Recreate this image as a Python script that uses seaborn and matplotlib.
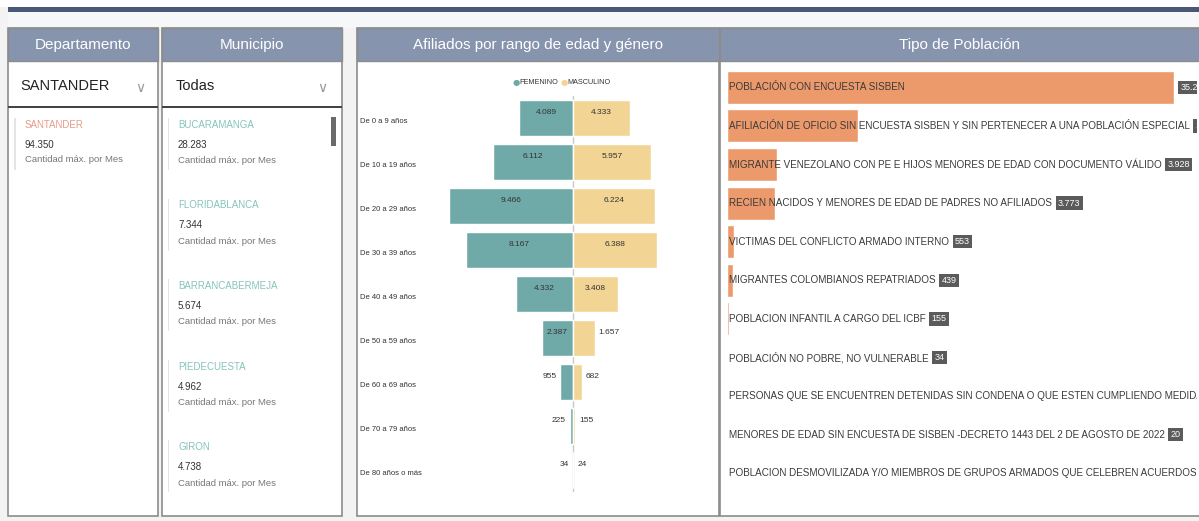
import matplotlib
matplotlib.use("Agg")
import matplotlib.pyplot as plt
import seaborn as sns
from matplotlib.patches import Rectangle
from matplotlib.transforms import blended_transform_factory

sns.set_theme(style="white")
plt.rcParams["font.family"] = ["Liberation Sans", "DejaVu Sans"]

# ---- datos ----
departamento = "SANTANDER"
depto_total = 94350

municipios = ["BUCARAMANGA", "FLORIDABLANCA", "BARRANCABERMEJA", "PIEDECUESTA", "GIRON"]
muni_values = [28283, 7344, 5674, 4962, 4738]

age_groups = ["De 0 a 9 años", "De 10 a 19 años", "De 20 a 29 años", "De 30 a 39 años",
              "De 40 a 49 años", "De 50 a 59 años", "De 60 a 69 años", "De 70 a 79 años",
              "De 80 años o más"]
female = [4089, 6112, 9466, 8167, 4332, 2387, 955, 225, 34]
male = [4333, 5957, 6224, 6388, 3408, 1657, 682, 155, 24]

pop_types = [
    "POBLACIÓN CON ENCUESTA SISBEN",
    "AFILIACIÓN DE OFICIO SIN ENCUESTA SISBEN Y SIN PERTENECER A UNA POBLACIÓN ESPECIAL",
    "MIGRANTE VENEZOLANO CON PE E HIJOS MENORES DE EDAD CON DOCUMENTO VÁLIDO",
    "RECIEN NACIDOS Y MENORES DE EDAD DE PADRES NO AFILIADOS",
    "VICTIMAS DEL CONFLICTO ARMADO INTERNO",
    "MIGRANTES COLOMBIANOS REPATRIADOS",
    "POBLACION INFANTIL A CARGO DEL ICBF",
    "POBLACIÓN NO POBRE, NO VULNERABLE",
    "PERSONAS QUE SE ENCUENTREN DETENIDAS SIN CONDENA O QUE ESTEN CUMPLIENDO MEDIDA DE ASEGURAMIENTO",
    "MENORES DE EDAD SIN ENCUESTA DE SISBEN -DECRETO 1443 DEL 2 DE AGOSTO DE 2022",
    "POBLACION DESMOVILIZADA Y/O MIEMBROS DE GRUPOS ARMADOS QUE CELEBREN ACUERDOS DE PAZ",
]
pop_values = [35214, 10296, 3928, 3773, 553, 439, 155, 34, 27, 20, 12]

TEAL = "#6faaa8"
TAN = "#f2d594"
SALMON = "#ec9a6c"
HEADER = "#8794ae"
BORDER = "#8c8c8c"

W, H = 1199, 521


def fmt(v):
    return f"{v:,}".replace(",", ".")


fig = plt.figure(figsize=(W / 100, H / 100), dpi=100)
fig.patch.set_facecolor("#f3f3f3")


def rect(x0, y0, x1, y1, z=0.5, **kw):
    fig.add_artist(Rectangle((x0 / W, 1 - y1 / H), (x1 - x0) / W, (y1 - y0) / H,
                             transform=fig.transFigure, zorder=z, **kw))


def ftext(x, y, s, **kw):
    return fig.text(x / W, 1 - y / H, s, **kw)


# fondo y barra superior
rect(0, 0, W, 7, fc="white", ec="none")
rect(8, 7, W, 12, fc="#4a5878", ec="none")
rect(8, 12, W, 28, fc="#f6f7f9", ec="none")

# paneles
panels = [(8, 158, "Departamento"), (162, 342, "Municipio"),
          (357, 719, "Afiliados por rango de edad y género"), (720, W + 2, "Tipo de Población")]
for x0, x1, title in panels:
    rect(x0, 28, x1, 516, fc="white", ec=BORDER, lw=1.2)
    rect(x0, 28, x1, 61, fc=HEADER, ec=BORDER, lw=1.0, z=0.6)
    ftext((x0 + min(x1, W)) / 2, 45, title, color="white", fontsize=11, ha="center", va="center")

# slicers
rect(8, 106, 158, 108, fc="#444444", ec="none", z=0.7)
rect(162, 106, 342, 108, fc="#444444", ec="none", z=0.7)
ftext(20, 86, "SANTANDER", fontsize=10.5, color="#222222", va="center")
ftext(176, 86, "Todas", fontsize=10.5, color="#222222", va="center")
for cx in (140, 322):
    ftext(cx, 88, "∨", fontsize=10, color="#999999", va="center", ha="center", family="DejaVu Sans")

# tarjeta departamento
rect(14, 118, 15.5, 170, fc="#e4e4e4", ec="none", z=0.7)
ftext(25, 125, departamento, fontsize=7, color="#e89a8a", va="center")
ftext(25, 145, fmt(depto_total), fontsize=7, color="#333333", va="center")
ftext(25, 160, "Cantidad máx. por Mes", fontsize=6.8, color="#777777", va="center")

# tarjetas municipio
for i, (name, val) in enumerate(zip(municipios, muni_values)):
    y0 = 125 + i * 80.5
    rect(168, y0 - 7, 169.5, y0 + 45, fc="#e4e4e4", ec="none", z=0.7)
    ftext(178, y0, name, fontsize=7, color="#86c4ba", va="center")
    ftext(178, y0 + 20, fmt(val), fontsize=7, color="#333333", va="center")
    ftext(178, y0 + 36, "Cantidad máx. por Mes", fontsize=6.8, color="#777777", va="center")
rect(331, 117, 336, 146, fc="#6a6a6a", ec="none", z=0.7)

# ---- pirámide ----
ax1 = fig.add_axes([360 / W, 1 - 492 / H, 355 / W, 396 / H])
ax1.set_zorder(2)
ax1.axvline(0, color="#c8c8c8", lw=1, zorder=0)
sns.barplot(x=[-v for v in female], y=age_groups, order=age_groups, color=TEAL,
            saturation=1, width=0.84, orient="y", ax=ax1)
sns.barplot(x=male, y=age_groups, order=age_groups, color=TAN,
            saturation=1, width=0.84, orient="y", ax=ax1)
ax1.set_xlim(-16200, 10800)
ax1.set_ylim(8.5, -0.5)
ax1.axis("off")

PX = 76  # unidades por pixel
trans1 = blended_transform_factory(ax1.transAxes, ax1.transData)
for i, g in enumerate(age_groups):
    ax1.text(0, i + 0.08, g, transform=trans1, fontsize=5.5, color="#333333", ha="left", va="center")
    f, m = female[i], male[i]
    if f / PX > 25:
        ax1.text(-f / 2, i - 0.12, fmt(f), fontsize=6, color="#333333", ha="center", va="center")
    else:
        ax1.text(-f - 4 * PX, i - 0.12, fmt(f), fontsize=6, color="#333333", ha="right", va="center")
    if m / PX > 25:
        ax1.text(m / 2, i - 0.12, fmt(m), fontsize=6, color="#333333", ha="center", va="center")
    else:
        ax1.text(m + 4 * PX, i - 0.12, fmt(m), fontsize=6, color="#333333", ha="left", va="center")

# leyenda
ftext(513, 82, "●", color=TEAL, fontsize=6, va="center", family="DejaVu Sans")
ftext(519, 82, "FEMENINO", color="#333333", fontsize=5.2, va="center")
ftext(561, 82, "●", color=TAN, fontsize=6, va="center", family="DejaVu Sans")
ftext(567, 82, "MASCULINO", color="#333333", fontsize=5.2, va="center")

# ---- tipo de población ----
ax2 = fig.add_axes([727 / W, 1 - 492.6 / H, 470 / W, 424.6 / H])
ax2.set_zorder(2)
sns.barplot(x=pop_values, y=pop_types, order=pop_types, color=SALMON,
            saturation=1, width=0.86, orient="y", ax=ax2)
ax2.set_xlim(0, 37000)
ax2.set_ylim(len(pop_types) - 0.5, -0.5)
ax2.axis("off")

trans2 = blended_transform_factory(ax2.transAxes, ax2.transData)
labels = []
for i, t in enumerate(pop_types):
    labels.append(ax2.text(0.004, i, t, transform=trans2, fontsize=7.15, color="#3a3a3a",
                           ha="left", va="center", clip_on=True))

fig.canvas.draw()
renderer = fig.canvas.get_renderer()
inv = ax2.transData.inverted()
for i, (lab, v) in enumerate(zip(labels, pop_values)):
    text_end = lab.get_window_extent(renderer).x1
    bar_end = ax2.transData.transform((v, i))[0]
    x_px = max(text_end, bar_end) + 6
    x_data = inv.transform((x_px, 0))[0]
    ax2.text(x_data, i, fmt(v), fontsize=6.5, color="white", ha="left", va="center", clip_on=True,
             bbox=dict(boxstyle="square,pad=0.25", fc="#5b5b5b", ec="none"))

fig.savefig("out.png", dpi=100, facecolor=fig.get_facecolor())
